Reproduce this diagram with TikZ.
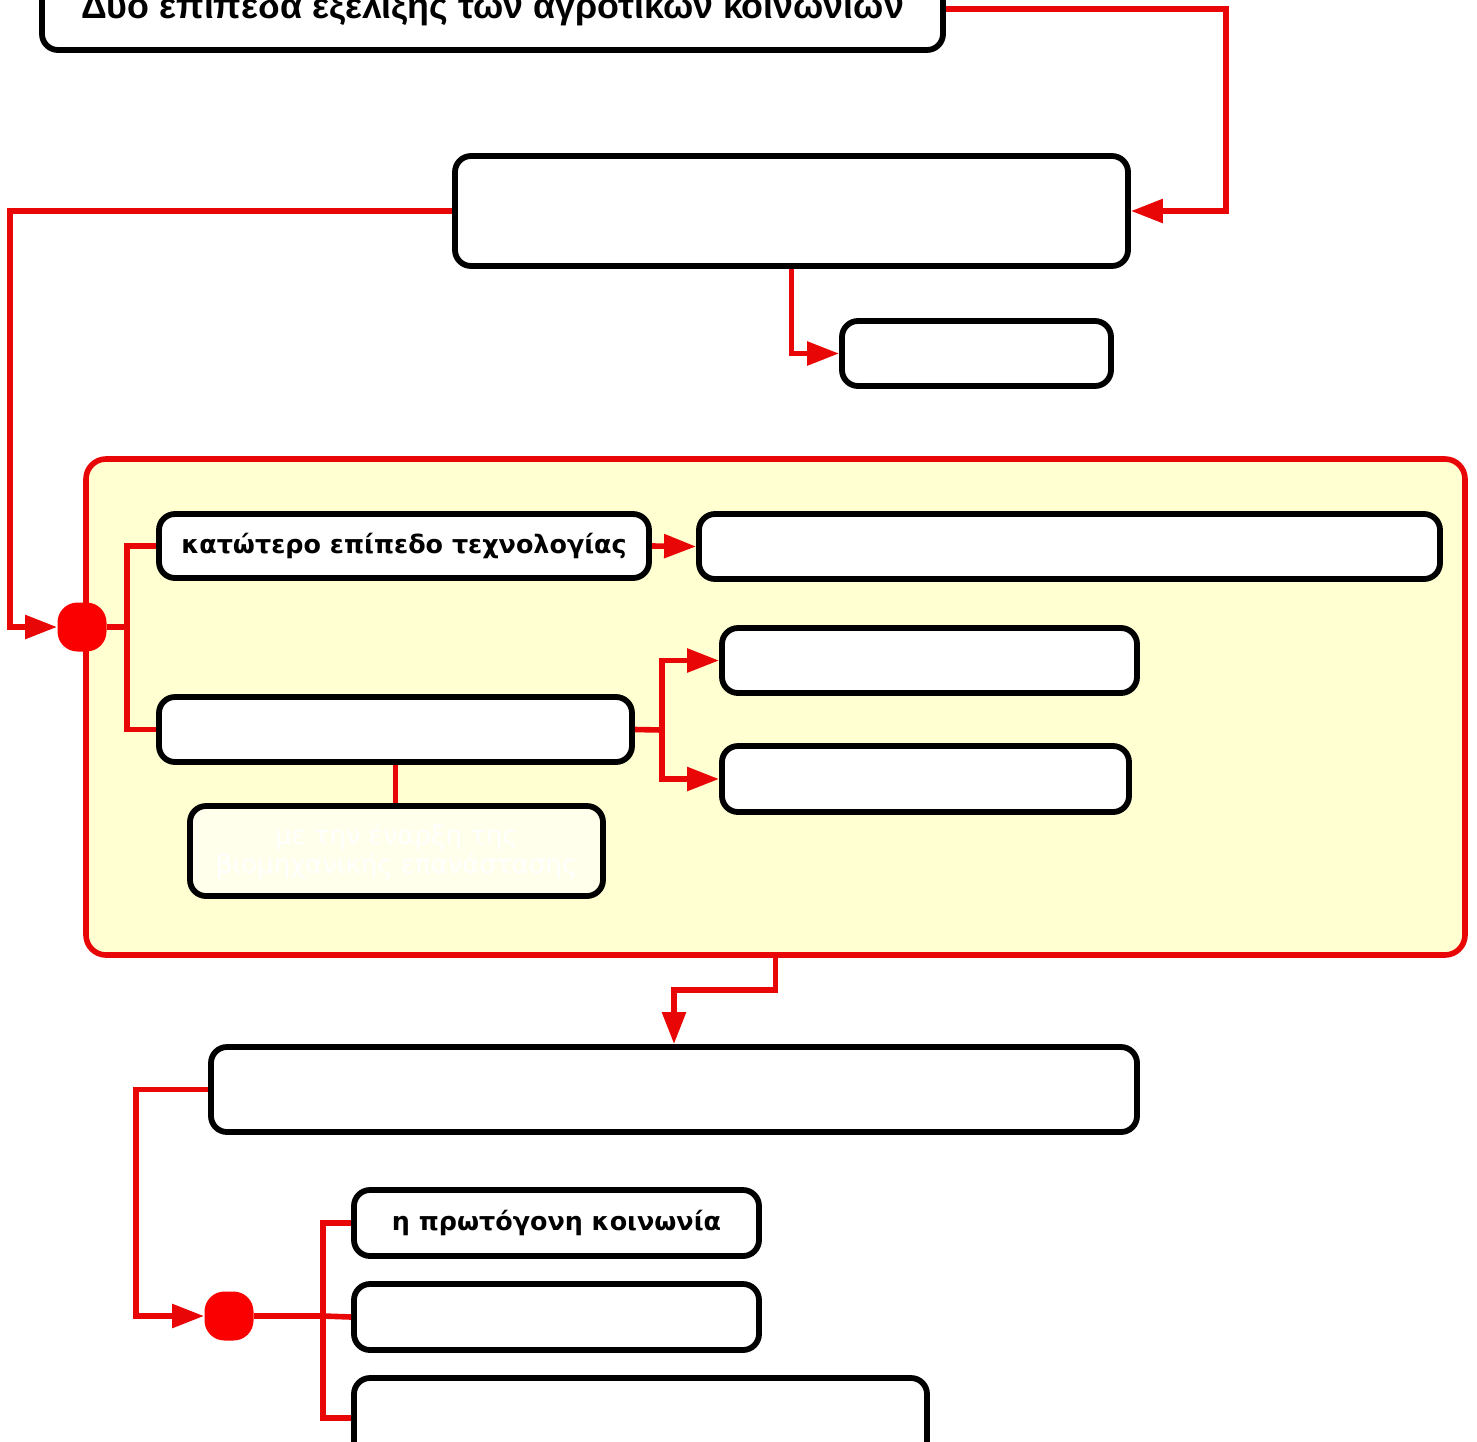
\documentclass[tikz,border=0pt]{standalone}
\usepackage{fontspec}
\setmainfont{DejaVu Sans}
\newfontfamily\titlefont{Liberation Sans}
\usepackage{tikz}
\usetikzlibrary{
	positioning,
	arrows.meta
}
\definecolor{linkred}{RGB}{232,6,6}
\definecolor{dotred}{RGB}{250,0,0}
\definecolor{panelyellow}{RGB}{255,255,210}
\definecolor{notefill}{RGB}{255,255,236}

\begin{document}
\begin{tikzpicture}[x=0.5pt,y=-0.5pt,
		box/.style={draw=black, line width=2.9pt, rounded corners=8pt, fill=white,
			inner sep=0pt, font=\bfseries\fontsize{12.7}{14}\selectfont},
		dot/.style={fill=dotred, rounded corners=10pt, minimum size=24.5pt, inner sep=0pt},
		link/.style={draw=linkred, line width=2.8pt},
		arrow/.style={link, -{Triangle[length=16pt, width=11.5pt]}}
	]
		\useasboundingbox (0,0) rectangle (1477,1441);

		\node[box, minimum width=450.5pt, minimum height=41pt,
			font=\titlefont\bfseries\fontsize{17.9}{20}\selectfont] (title) at (492.5,9)
			{Δυο επιπεδα εξελιξης των αγροτικων κοινωνιων};
		\node[box, minimum width=336.5pt, minimum height=55pt] (top) at (791.5,211) {};
		\node[box, minimum width=134.5pt, minimum height=32.5pt] (side) at (976.5,353.5) {};

		\node[draw=linkred, line width=2.8pt, rounded corners=10pt, fill=panelyellow,
			minimum width=689.5pt, minimum height=248pt, inner sep=0pt] (panel) at (775.5,707) {};

		\node[dot] (dot1) at (82,627) {};
		\node[box, minimum width=245pt, minimum height=32pt] (low) at (404,546)
			{κατώτερο επίπεδο τεχνολογίας};
		\node[box, minimum width=370.5pt, minimum height=32.5pt] (lowres) at (1069.5,546.5) {};
		\node[box, minimum width=236.5pt, minimum height=32.5pt] (high) at (395.5,729.5) {};
		\node[box, minimum width=207.5pt, minimum height=32.5pt] (highup) at (929.5,660.5) {};
		\node[box, minimum width=203.5pt, minimum height=33pt] (highdown) at (925.5,779) {};
		\node[box, fill=notefill, minimum width=206.5pt, minimum height=45pt, align=center,
			text=white, font=\fontsize{13}{14.5}\selectfont] (note) at (396.5,851)
			{με την έναρξη της\\βιομηχανικής επανάστασης};

		\node[box, minimum width=463pt, minimum height=42.5pt] (bottom) at (674,1089.5) {};
		\node[dot] (dot2) at (229,1316) {};
		\node[box, minimum width=202.5pt, minimum height=33pt] (prim) at (556.5,1223)
			{η πρωτόγονη κοινωνία};
		\node[box, minimum width=202.5pt, minimum height=33pt] (mid) at (556.5,1317) {};
		\node[box, minimum width=286.5pt, minimum height=40pt] (last) at (640.5,1418) {};

		\coordinate (turn1) at (1226,211);
		\coordinate (turn2) at (10,627);
		\coordinate (fork1) at (127,627);
		\coordinate (fork2) at (662,730);
		\coordinate (turn3) at (136,1316);
		\coordinate (fork3) at (323,1316);

		\draw[arrow] (title.east) -| (turn1) -- (top.east);
		\draw[arrow] (top.west) -| (turn2) -- (dot1.west);
		\draw[arrow] (top.south) |- (side.west);

		\draw[link] (dot1.east) -- (fork1);
		\draw[link] (low.west) -| (fork1) |- (high.west);
		\draw[arrow] (low.east) -- (lowres.west);
		\draw[link] (high.east) -- (fork2);
		\draw[arrow] (fork2) |- (highup.west);
		\draw[arrow] (fork2) |- (highdown.west);
		\draw[link] (high.south) -- (high.south |- note.north);

		\draw[arrow] (panel.south) -- ++(0,32) -| (bottom.north);
		\draw[arrow] (bottom.west) -| (turn3) -- (dot2.west);
		\draw[link] (dot2.east) -- (fork3);
		\draw[link] (prim.west) -| (fork3) |- (last.west);
		\draw[link] (fork3) -- (mid.west);
	\end{tikzpicture}
\end{document}
